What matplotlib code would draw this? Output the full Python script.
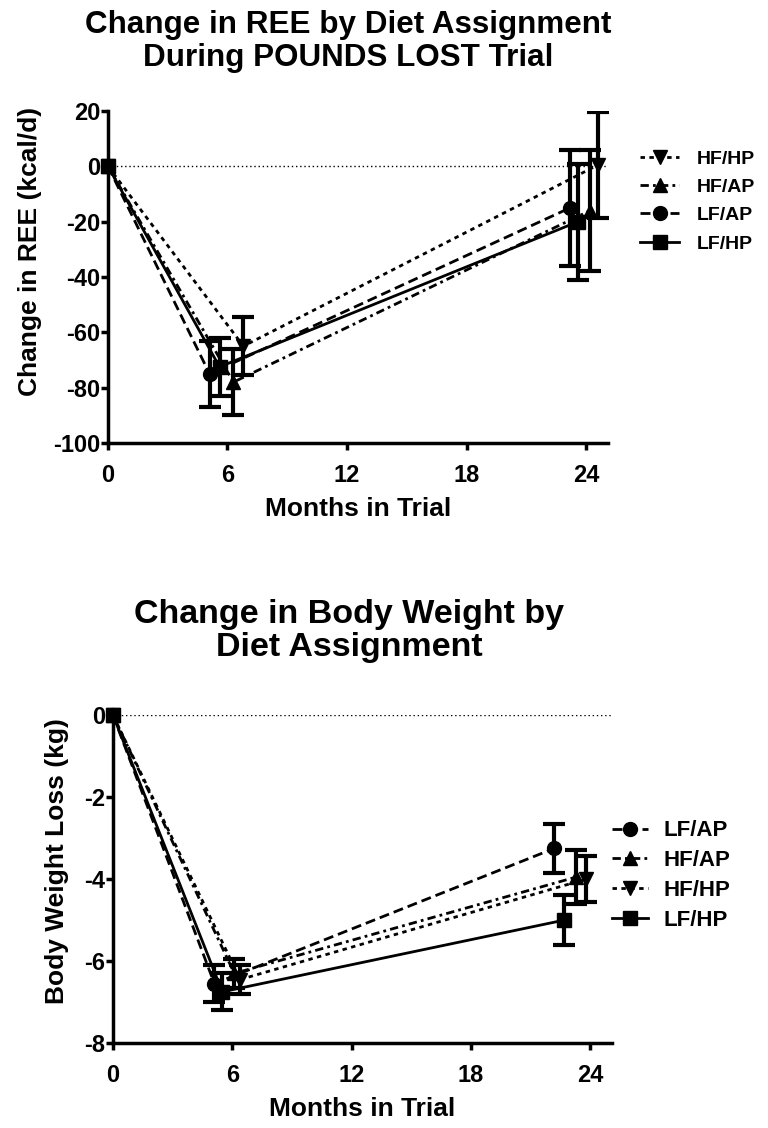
import numpy as np
import matplotlib.pyplot as plt

plt.rcParams['font.family'] = ['Liberation Sans', 'DejaVu Sans']
plt.rcParams['font.weight'] = 'bold'
plt.rcParams['axes.unicode_minus'] = False

# groups (same order for both panels)
groups = ['LF/AP', 'LF/HP', 'HF/AP', 'HF/HP']

# REE panel: months, mean change (kcal/d), error
ree_months = [[0, 5.1, 23.2], [0, 5.6, 23.6], [0, 6.3, 24.2], [0, 6.8, 24.6]]
ree_mean = [[0, -75, -15], [0, -72.5, -20], [0, -78, -16], [0, -65, 0.5]]
ree_err = [[0, 12, 21], [0, 10.5, 21], [0, 12, 22], [0, 10.5, 19]]

# body weight panel: months, mean change (kg), error
wt_months = [[0, 5.1, 22.2], [0, 5.5, 22.7], [0, 6.1, 23.3], [0, 6.4, 23.8]]
wt_mean = [[0, -6.55, -3.25], [0, -6.75, -5.0], [0, -6.3, -3.95], [0, -6.45, -4.0]]
wt_err = [[0, 0.45, 0.6], [0, 0.45, 0.6], [0, 0.35, 0.65], [0, 0.35, 0.55]]

# line / marker style per group
markers = ['o', 's', '^', 'v']
dashes = [(0, (3.6, 1.8)), '-', (0, (3, 1.5, 1, 1.5)), (0, (1.6, 1.6))]

ree_legend_order = ['HF/HP', 'HF/AP', 'LF/AP', 'LF/HP']
wt_legend_order = ['LF/AP', 'HF/AP', 'HF/HP', 'LF/HP']


def draw_panel(ax, months, means, errs, order):
    handles = {}
    for i, g in enumerate(groups):
        x = np.array(months[i])
        y = np.array(means[i])
        e = np.array(errs[i])
        ax.errorbar(x[1:], y[1:], yerr=e[1:], fmt='none', ecolor='black',
                    elinewidth=3, capsize=8, capthick=3, zorder=3)
        line, = ax.plot(x, y, color='black', lw=2, ls=dashes[i],
                        marker=markers[i], ms=10, mfc='black', mec='black',
                        clip_on=False, zorder=4)
        handles[g] = line
    ax.axhline(0, color='black', lw=1, ls=(0, (1, 2)), zorder=1)
    ax.spines['top'].set_visible(False)
    ax.spines['right'].set_visible(False)
    ax.spines['left'].set_linewidth(2.5)
    ax.spines['bottom'].set_linewidth(2.5)
    ax.tick_params(width=2.5, length=5, labelsize=17, pad=0.5)
    ax.tick_params(axis='x', pad=10)
    ax.set_xticks([0, 6, 12, 18, 24])
    ax.set_xlim(0, 25.1)
    ax.set_xlabel('Months in Trial', fontsize=19, fontweight='bold', labelpad=7)
    return [handles[g] for g in order]


fig = plt.figure(figsize=(7.68, 11.28), dpi=100)

ax1 = fig.add_axes([0.1406, 0.6073, 0.651, 0.2943])
h1 = draw_panel(ax1, ree_months, ree_mean, ree_err, ree_legend_order)
ax1.set_ylim(-100, 20)
ax1.set_yticks(np.arange(-100, 21, 20))
ax1.set_ylabel('Change in REE (kcal/d)', fontsize=19, fontweight='bold')
ax1.yaxis.set_label_coords(-0.132, 0.578)
fig.text(348 / 768, 1 - 41.5 / 1128,
         'Change in REE by Diet Assignment\nDuring POUNDS LOST Trial',
         ha='center', va='center', fontsize=22.6, fontweight='bold', linespacing=1.1)
ax1.legend(h1, ree_legend_order, loc='upper left', bbox_to_anchor=(1.03, 0.935),
           frameon=False, fontsize=14, handlelength=2.0, handletextpad=0.9,
           labelspacing=0.55)

ax2 = fig.add_axes([0.1471, 0.0753, 0.650, 0.2908])
h2 = draw_panel(ax2, wt_months, wt_mean, wt_err, wt_legend_order)
ax2.set_ylim(-8, 0)
ax2.set_yticks(np.arange(-8, 1, 2))
ax2.set_ylabel('Body Weight Loss (kg)', fontsize=19, fontweight='bold')
ax2.yaxis.set_label_coords(-0.088, 0.555)
fig.text(349 / 768, 1 - 631 / 1128,
         'Change in Body Weight by\nDiet Assignment',
         ha='center', va='center', fontsize=24.5, fontweight='bold', linespacing=1.05)
ax2.legend(h2, wt_legend_order, loc='upper left', bbox_to_anchor=(0.96, 0.74),
           frameon=False, fontsize=16, handlelength=1.6, handletextpad=0.7,
           labelspacing=0.4)

fig.savefig('out.png', dpi=100)
